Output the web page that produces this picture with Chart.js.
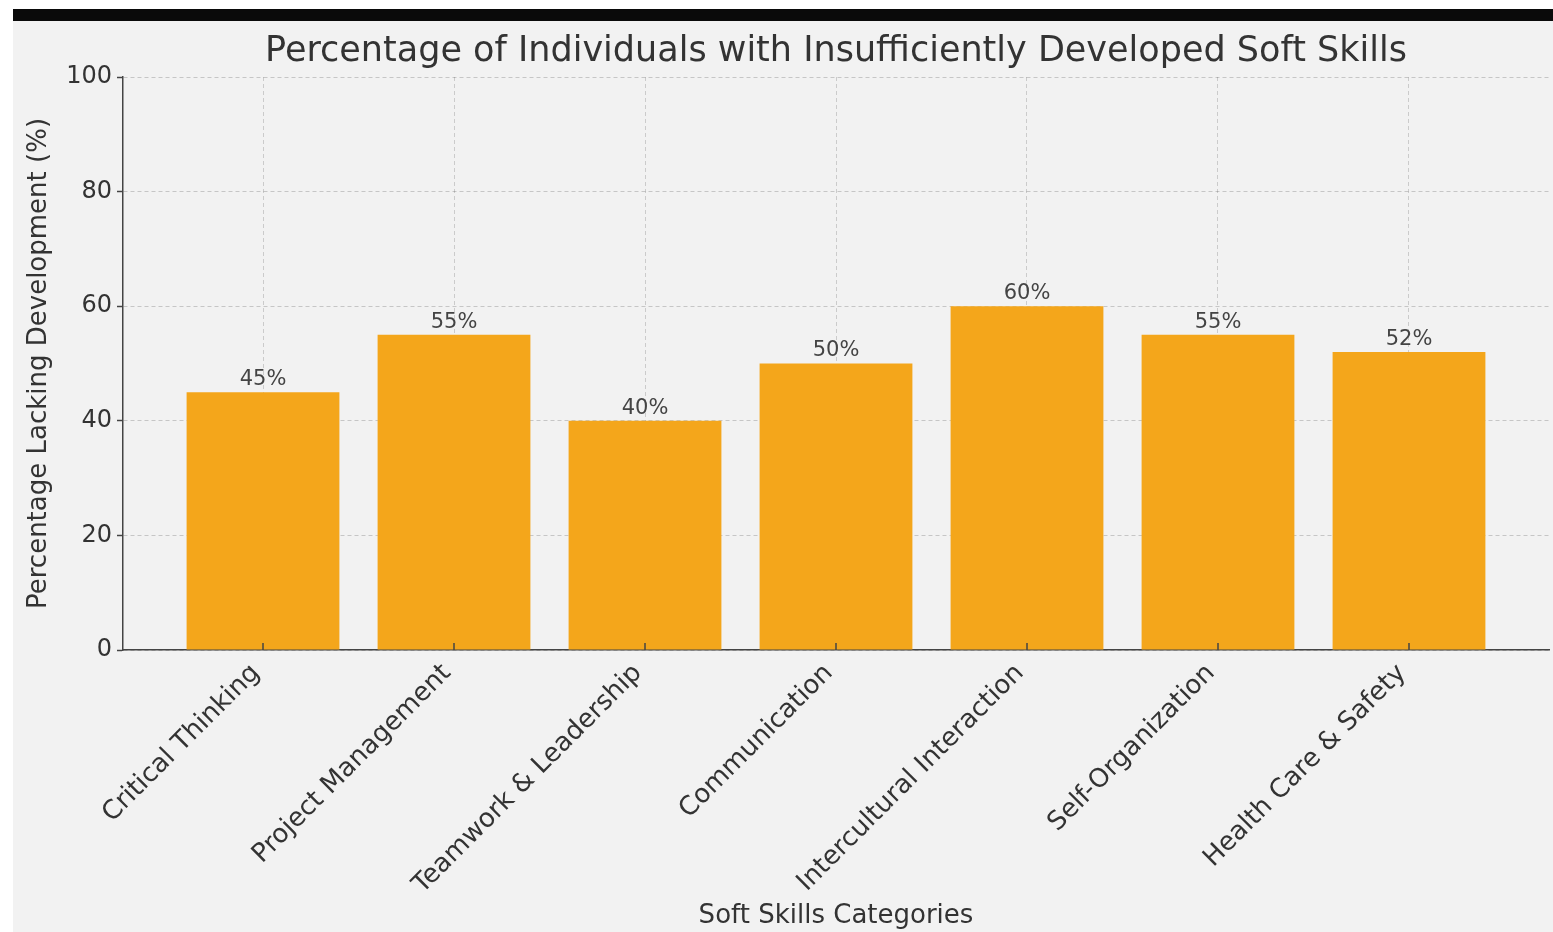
<!DOCTYPE html>
<html>
<head>
<meta charset="utf-8">
<script src="https://cdn.jsdelivr.net/npm/chart.js@4.4.1/dist/chart.umd.min.js"></script>
<style>
  html, body { margin: 0; padding: 0; background: #ffffff; }
  body { width: 1553px; height: 932px; position: relative; overflow: hidden; }
  #topbar { position: absolute; left: 13px; top: 9px; width: 1540px; height: 12px; background: #0a0a0a; }
  #wrap { position: absolute; left: 13px; top: 21px; width: 1540px; height: 911px; background: #f2f2f2; }
</style>
</head>
<body>
<div id="topbar"></div>
<div id="wrap"><canvas id="chart" width="1540" height="911"></canvas></div>
<script>
// Data
const categories = ['Critical Thinking', 'Project Management', 'Teamwork & Leadership', 'Communication',
  'Intercultural Interaction', 'Self-Organization', 'Health Care & Safety'];
const percentages = [45, 55, 40, 50, 60, 55, 52];
const yTicks = [0, 20, 40, 60, 80, 100];

const barColor = '#F4A61B';
const textColor = '#333333';
const font = 'DejaVu Sans';

// Labels on top of the bars, and small inward ticks on the x axis
const barLabels = {
  id: 'barLabels',
  afterDatasetsDraw(chart) {
    const ctx = chart.ctx;
    const meta = chart.getDatasetMeta(0);
    ctx.save();
    ctx.font = '21px "' + font + '"';
    ctx.fillStyle = '#444444';
    ctx.textAlign = 'center';
    ctx.textBaseline = 'bottom';
    meta.data.forEach((bar, i) => {
      ctx.fillText(percentages[i] + '%', bar.x, bar.y - 2);
    });
    ctx.restore();
  },
  afterDraw(chart) {
    const ctx = chart.ctx;
    const x = chart.scales.x;
    ctx.save();
    ctx.strokeStyle = '#444444';
    ctx.lineWidth = 1.5;
    categories.forEach((c, i) => {
      const px = x.getPixelForValue(i);
      ctx.beginPath();
      ctx.moveTo(px, x.top);
      ctx.lineTo(px, x.top - 7);
      ctx.stroke();
    });
    ctx.restore();
  }
};

const ctx = document.getElementById('chart').getContext('2d');
const chart = new Chart(ctx, {
  type: 'bar',
  data: {
    datasets: [{
      data: percentages.map((v, i) => ({ x: i, y: v })),
      backgroundColor: barColor,
      borderWidth: 0,
      barPercentage: 0.8,
      categoryPercentage: 1.0
    }]
  },
  options: {
    responsive: false,
    animation: false,
    layout: { padding: { left: 0, right: 4, top: 0, bottom: 0 } },
    plugins: {
      legend: { display: false },
      tooltip: { enabled: false },
      title: {
        display: true,
        fullSize: false,
        text: 'Percentage of Individuals with Insufficiently Developed Soft Skills',
        color: '#333333',
        font: { family: font, size: 35, weight: 'normal' },
        padding: { top: 10, bottom: 4 }
      }
    },
    scales: {
      x: {
        type: 'linear',
        min: -0.733,
        max: 6.733,
        offset: false,
        z: 1,
        afterBuildTicks: axis => { axis.ticks = categories.map((c, i) => ({ value: i })); },
        afterFit: axis => { axis.height = 282; },
        grid: {
          offset: false,
          drawTicks: false,
          color: 'rgba(0,0,0,0.16)',
          lineWidth: 1
        },
        border: { display: true, color: '#444444', width: 1.5, dash: [4, 3] },
        ticks: {
          autoSkip: false,
          minRotation: 45,
          maxRotation: 45,
          padding: 8,
          labelOffset: -7,
          color: textColor,
          font: { family: font, size: 26 },
          callback: v => categories[v]
        },
        title: {
          display: true,
          text: 'Soft Skills Categories',
          color: textColor,
          font: { family: font, size: 26 },
          padding: { top: 0, bottom: 0 }
        }
      },
      y: {
        min: 0,
        max: 100,
        z: 1,
        afterBuildTicks: axis => { axis.ticks = yTicks.map(v => ({ value: v })); },
        afterFit: axis => { axis.width = 110; },
        grid: {
          color: 'rgba(0,0,0,0.18)',
          lineWidth: 1,
          tickLength: 6,
          tickColor: '#444444',
          tickWidth: 1.5
        },
        border: { display: true, color: '#444444', width: 1.5, dash: [4, 3] },
        ticks: {
          padding: 5,
          color: textColor,
          font: { family: font, size: 24 }
        },
        title: {
          display: true,
          text: 'Percentage Lacking Development (%)',
          color: textColor,
          font: { family: font, size: 26 },
          padding: { top: 11, bottom: 0 }
        }
      }
    }
  },
  plugins: [barLabels]
});
</script>
</body>
</html>
